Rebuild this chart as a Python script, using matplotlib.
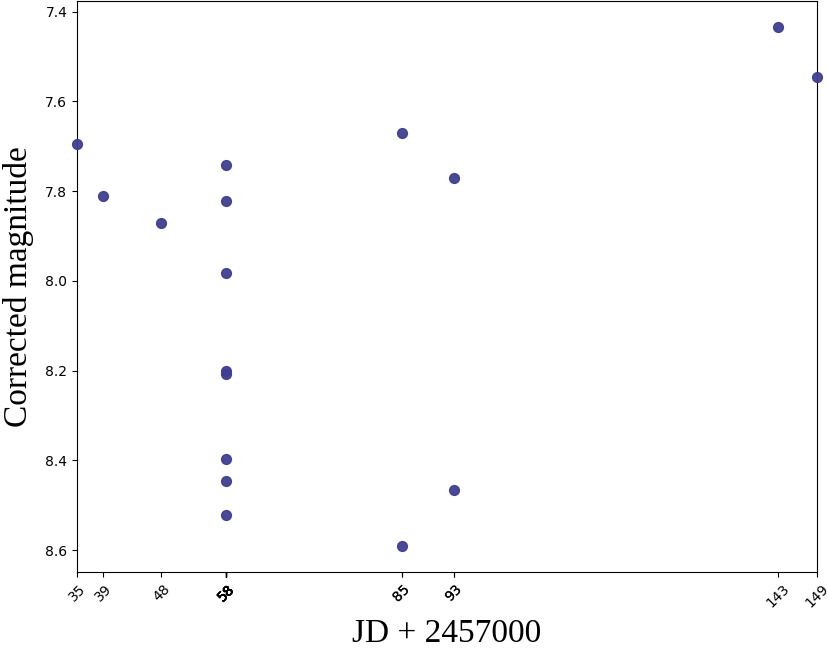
import numpy as np
import matplotlib.pyplot as plt

# observation dates (JD - 2457000) and corrected magnitudes
jd = [35, 39, 48, 57.99, 57.995, 58.0, 58.0, 58.005, 58.01, 58.01, 58.015,
      85, 85, 93, 93, 143, 149]
mag = [7.695, 7.811, 7.871, 7.742, 7.822, 7.983, 8.201, 8.207, 8.398,
       8.445, 8.522, 7.671, 8.591, 7.771, 8.467, 7.434, 7.546]

fig = plt.figure(figsize=(8.28, 6.52), dpi=100)
ax = fig.add_axes([0.093, 0.1227, 0.894, 0.876])

ax.scatter(jd, mag, s=50, color='#3f3f8f', alpha=0.95, zorder=3, clip_on=False)
ax.set_xlim(min(jd), max(jd))
ax.invert_yaxis()

ax.set_xticks(jd)
ax.set_xticklabels([str(int(round(v))) for v in jd], rotation=45)
ax.set_yticks([7.4, 7.6, 7.8, 8.0, 8.2, 8.4, 8.6])

ax.set_xlabel('JD + 2457000', family='Liberation Serif', fontsize=24, labelpad=6)
ax.set_ylabel('Corrected magnitude', family='Liberation Serif', fontsize=24, labelpad=8)

plt.savefig('out.png', dpi=100)
